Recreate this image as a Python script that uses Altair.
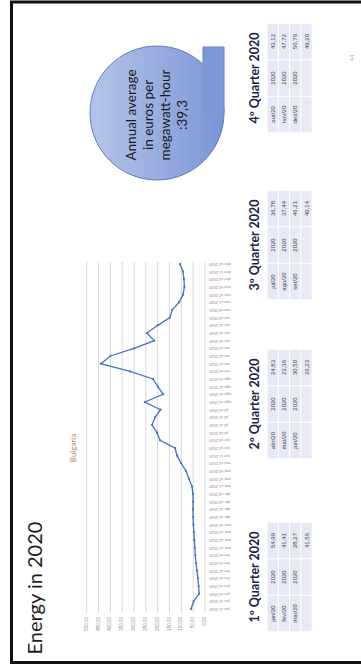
import altair as alt
import pandas as pd

W, H = 361, 667

# ---------------- data ----------------
weekly_values = [59, 48, 25, 27, 30, 34, 38, 41, 43, 45, 47, 49, 50, 51, 50, 51,
                 55, 68, 80, 101, 118, 127, 190, 203, 224, 211, 188, 254, 177, 199,
                 220, 317, 440, 400, 300, 215, 245, 200, 148, 139, 110, 93, 87, 89,
                 93, 106]
months_pt = ["jan", "fev", "mar", "abr", "mai", "jun", "jul", "ago", "set", "out", "nov", "dez"]
value_ticks = [0, 50, 100, 150, 200, 250, 300, 350, 400, 450, 500]
value_tick_labels = ["0,00", "50,00", "100,00", "150,00", "200,00", "250,00",
                     "300,00", "350,00", "400,00", "450,00", "500,00"]
chart_title = "Bulgaria"

quarter_titles = ["1º Quarter  2020", "2º Quarter  2020", "3º Quarter  2020", "4º Quarter  2020"]
quarter_months = [["jan/20", "fev/20", "mar/20"], ["abr/20", "mai/20", "jun/20"],
                  ["jul/20", "ago/20", "set/20"], ["out/20", "nov/20", "dez/20"]]
quarter_year = "2020"
quarter_prices = [["54,99", "41,41", "28,27"], ["24,83", "23,36", "30,50"],
                  ["36,78", "37,44", "46,21"], ["43,12", "47,72", "56,76"]]
quarter_avgs = ["41,56", "26,23", "40,14", "49,20"]
callout_lines = ["Annual average", "in euros per", "megawatt-hour", ":39,3"]
page_title = "Energy in 2020"
page_number = "44"

# ---------------- layout (pixels) ----------------
VAL_RANGE = [205, 86.7]        # value axis (0 -> 500) runs leftwards
CAT_RANGE = [609, 264]         # categories run upwards
GRID_Y = [262, 613]
TABLE_CENTERS = [577, 404, 245, 78]
ROW_X0, ROW_W = 267, 11.3
COL_H = 36.5
HEAD_X = 255

pix_x = alt.Scale(domain=[0, W], range=[0, W], nice=False, zero=False)
pix_y = alt.Scale(domain=[0, H], range=[0, H], nice=False, zero=False)
val_scale = alt.Scale(domain=[0, 500], range=VAL_RANGE, nice=False, zero=False)
cat_scale = alt.Scale(domain=[0, len(weekly_values) - 1], range=CAT_RANGE, nice=False, zero=False)

FONT = "Lato"

# ---------------- frame ----------------
frame = alt.Chart(pd.DataFrame({"a": [0]})).mark_rect(
    fill=None, stroke="#111111", strokeWidth=3
).encode(x=alt.value(11.5), x2=alt.value(400), y=alt.value(2), y2=alt.value(662.5))

# ---------------- page title ----------------
title_txt = alt.Chart(pd.DataFrame({"t": [page_title]})).mark_text(
    angle=270, font=FONT, fontSize=20, color="#1d1d1d", align="center", baseline="middle"
).encode(x=alt.value(36), y=alt.value(588), text="t:N")

# ---------------- line chart ----------------
ticks_df = pd.DataFrame({"v": value_ticks, "lab": value_tick_labels})
grid = alt.Chart(ticks_df).mark_rule(color="#d9d9d9", strokeWidth=1).encode(
    x=alt.X("v:Q", scale=val_scale, axis=None),
    y=alt.value(GRID_Y[0]), y2=alt.value(GRID_Y[1]))
vlabels = alt.Chart(ticks_df).mark_text(
    angle=270, font="Liberation Sans", fontSize=4.5, color="#8c8c8c", align="right", baseline="middle"
).encode(x=alt.X("v:Q", scale=val_scale, axis=None), y=alt.value(617), text="lab:N")

n = len(weekly_values)
cat_labels = []
for i in range(n):
    m = months_pt[min(11, i * 12 // n)]
    cat_labels.append(f"{m} s{i % 4 + 1} 2020")
line_df = pd.DataFrame({"idx": list(range(n)), "val": weekly_values, "lab": cat_labels})

line = alt.Chart(line_df).mark_line(color="#4472c4", strokeWidth=1.3).encode(
    x=alt.X("val:Q", scale=val_scale, axis=None),
    y=alt.Y("idx:Q", scale=cat_scale, axis=None), order="idx:Q")
pts = alt.Chart(line_df).mark_point(
    shape="circle", filled=True, size=5, color="#4472c4", opacity=1
).encode(x=alt.X("val:Q", scale=val_scale, axis=None),
         y=alt.Y("idx:Q", scale=cat_scale, axis=None))
clabels = alt.Chart(line_df).mark_text(
    angle=180, font="Liberation Sans", fontSize=4, color="#9a8476", align="right", baseline="middle"
).encode(x=alt.value(209), y=alt.Y("idx:Q", scale=cat_scale, axis=None), text="lab:N")

ctitle = alt.Chart(pd.DataFrame({"t": [chart_title]})).mark_text(
    angle=270, font=FONT, fontSize=8, color="#b08a70", align="center", baseline="middle"
).encode(x=alt.value(74), y=alt.value(448), text="t:N")

# ---------------- tables ----------------
cells = []
for q in range(4):
    yc = TABLE_CENTERS[q]
    ybot = yc + 1.5 * COL_H
    for r in range(4):
        for c in range(3):
            if r < 3:
                txt = [quarter_months[q][r], quarter_year, quarter_prices[q][r]][c]
            else:
                txt = ["", "", quarter_avgs[q]][c]
            x0 = ROW_X0 + r * ROW_W
            y1 = ybot - c * COL_H
            cells.append({"x": x0 + 0.5, "x2": x0 + ROW_W - 0.5,
                          "y": y1 - COL_H + 0.5, "y2": y1 - 0.5,
                          "cx": x0 + ROW_W / 2, "cy": y1 - COL_H / 2, "t": txt})
cells_df = pd.DataFrame(cells)
cell_rects = alt.Chart(cells_df).mark_rect(color="#e7eaf4").encode(
    x=alt.X("x:Q", scale=pix_x, axis=None), x2="x2:Q",
    y=alt.Y("y:Q", scale=pix_y, axis=None), y2="y2:Q")
cell_text = alt.Chart(cells_df).mark_text(
    angle=270, font="Liberation Sans", fontSize=6, color="#3a3f55", align="center", baseline="middle"
).encode(x=alt.X("cx:Q", scale=pix_x, axis=None), y=alt.Y("cy:Q", scale=pix_y, axis=None), text="t:N")

heads_df = pd.DataFrame({"t": quarter_titles, "x": [HEAD_X] * 4, "y": TABLE_CENTERS})
heads = alt.Chart(heads_df).mark_text(
    angle=270, font=FONT, fontSize=12.5, fontWeight="bold", color="#1c2541", align="center", baseline="middle"
).encode(x=alt.X("x:Q", scale=pix_x, axis=None), y=alt.Y("y:Q", scale=pix_y, axis=None), text="t:N")

# ---------------- callout ----------------
CX, CY, R = 157, 113, 67
TAB_TOP = 47
LH = 17
grad = alt.LinearGradient(gradient="linear", x1=0, y1=0, x2=1, y2=0,
                          stops=[alt.GradientStop(color="#b6c4e8", offset=0),
                                 alt.GradientStop(color="#7b96d6", offset=1)])
base1 = alt.Chart(pd.DataFrame({"a": [0]}))
tab_stroke = base1.mark_rect(fill="#7d98d6", stroke="#5b7cc6", strokeWidth=1).encode(
    x=alt.value(CX + R - 21), x2=alt.value(CX + R), y=alt.value(TAB_TOP), y2=alt.value(CY))
circle = base1.mark_point(shape="circle", filled=True, size=(2 * R) ** 2, fill=grad,
                          stroke="#5b7cc6", strokeWidth=1, opacity=1, fillOpacity=1).encode(
    x=alt.value(CX), y=alt.value(CY))
tab_fill = base1.mark_rect(fill="#7d98d6").encode(
    x=alt.value(CX + R - 20.5), x2=alt.value(CX + R - 0.5), y=alt.value(TAB_TOP + 0.5), y2=alt.value(CY))
callout_text = alt.Chart(pd.DataFrame({"t": ["\n".join(callout_lines)]})).mark_text(
    angle=270, font=FONT, fontSize=13.5, lineHeight=LH, color="#1a1a1a",
    align="center", baseline="middle", lineBreak="\n"
).encode(x=alt.value(CX - 1.5 * LH), y=alt.value(CY + 2), text="t:N")

pnum = alt.Chart(pd.DataFrame({"t": [page_number]})).mark_text(
    angle=270, font="Liberation Sans", fontSize=6, color="#b0b0b0", align="center", baseline="middle"
).encode(x=alt.value(352), y=alt.value(58), text="t:N")

chart = alt.layer(
    frame, title_txt, grid, vlabels, line, pts, clabels, ctitle,
    cell_rects, cell_text, heads, tab_stroke, circle, tab_fill, callout_text, pnum
).resolve_scale(x="independent", y="independent").properties(
    width=W, height=H, padding=0, autosize=alt.AutoSizeParams(type="none"), background="white"
).configure_view(stroke=None)

chart.save("out.html", embed_options={"renderer": "svg", "actions": False})
